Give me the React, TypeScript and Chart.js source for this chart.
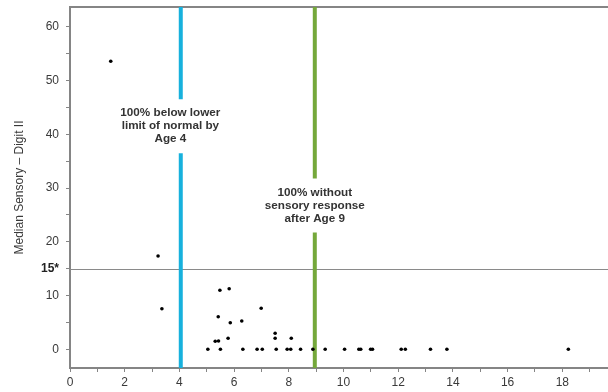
import { useEffect, useRef } from 'react';
import { Chart, registerables } from 'chart.js';

Chart.register(...registerables);

// ---- data ----
const pointX = [
  1.49, 3.22, 3.36,
  5.48, 5.82, 6.99, 5.42, 5.86, 6.28,
  5.31, 5.43, 5.78, 7.50, 7.50, 8.09,
  5.04, 5.50, 6.32, 6.84, 7.03, 7.54, 7.94, 8.07, 8.43, 8.88, 9.33,
  10.04, 10.56, 10.63, 10.99, 11.06, 12.11, 12.26, 13.18, 13.78, 18.22,
];
const pointY = [
  53.6, 17.35, 7.54,
  10.96, 11.26, 7.61, 6.05, 4.93, 5.25,
  1.47, 1.53, 2.03, 2.96, 2.03, 2.03,
  0, 0, 0, 0, 0, 0, 0, 0, 0, 0, 0,
  0, 0, 0, 0, 0, 0, 0, 0, 0, 0,
];

const yTickValues = [0, 5, 10, 15, 20, 25, 30, 35, 40, 45, 50, 55, 60];
const yTickLabels = ['0', '', '10', '15*', '20', '', '30', '', '40', '', '50', '', '60'];
const xTickValues = [0, 1, 2, 3, 4, 5, 6, 7, 8, 9, 10, 11, 12, 13, 14, 15, 16, 17, 18, 19];
const xTickLabels = ['0', '', '2', '', '4', '', '6', '', '8', '', '10', '', '12', '', '14', '', '16', '', '18', ''];

const referenceLevel = 15;
const ageLimits = [4.05, 8.95];
const ageLimitColors = ['#17b1dd', '#75a83b'];
const annotationTexts = [
  ['100% below lower', 'limit of normal by', 'Age 4'],
  ['100% without', 'sensory response', 'after Age 9'],
];
const annotationAnchorX = [3.67, 8.95];
const annotationAnchorY = [41.5, 26.75];

const yTitle = 'Median Sensory \u2013 Digit II';

const X_MIN = 0;
const X_MAX = 19.67;
const Y_MIN = -3.5;
const Y_MAX = 63.7;

const FONT = 'Arial, "Liberation Sans", sans-serif';
const AXIS_GRAY = '#858585';
const TEXT_COLOR = '#3a3a3a';

const overlayPlugin = {
  id: 'overlay',
  beforeDatasetsDraw(chart: any) {
    const { ctx, chartArea, scales } = chart;
    ctx.save();
    const y = Math.round(scales.y.getPixelForValue(referenceLevel)) + 0.5;
    ctx.strokeStyle = '#8a8a8a';
    ctx.lineWidth = 1;
    ctx.beginPath();
    ctx.moveTo(chartArea.left, y);
    ctx.lineTo(chartArea.right, y);
    ctx.stroke();
    ctx.lineWidth = 2;
    ctx.strokeStyle = AXIS_GRAY;
    ctx.beginPath();
    ctx.moveTo(chartArea.left - 1, chartArea.top);
    ctx.lineTo(chartArea.right, chartArea.top);
    ctx.stroke();
    ctx.restore();
  },
  afterDatasetsDraw(chart: any) {
    const { ctx, scales } = chart;
    ctx.save();
    ctx.font = `bold 11.7px ${FONT}`;
    ctx.textAlign = 'center';
    ctx.textBaseline = 'middle';
    const lineH = 13;
    annotationTexts.forEach((lines, i) => {
      const cx = scales.x.getPixelForValue(annotationAnchorX[i]);
      const cy = scales.y.getPixelForValue(annotationAnchorY[i]);
      const w = Math.max(...lines.map((l) => ctx.measureText(l).width)) + 6;
      const h = lines.length * lineH + 15;
      ctx.fillStyle = '#ffffff';
      ctx.fillRect(cx - w / 2, cy - h / 2, w, h);
      ctx.fillStyle = '#333333';
      lines.forEach((l, k) => {
        ctx.fillText(l, cx, cy + (k - (lines.length - 1) / 2) * lineH);
      });
    });
    ctx.restore();
  },
};

export default function App() {
  const ref = useRef<HTMLCanvasElement>(null);

  useEffect(() => {
    if (!ref.current) return;
    const lineSets = ageLimits.map((x, i) => ({
      type: 'scatter' as const,
      data: [
        { x, y: Y_MIN },
        { x, y: Y_MAX },
      ],
      showLine: true,
      borderColor: ageLimitColors[i],
      borderWidth: 4,
      pointRadius: 0,
      order: 2,
    }));
    const chart = new Chart(ref.current, {
      type: 'scatter',
      data: {
        datasets: [
          {
            data: pointX.map((x, i) => ({ x, y: pointY[i] })),
            backgroundColor: '#000000',
            borderColor: '#000000',
            borderWidth: 0,
            pointRadius: 1.8,
            order: 1,
          },
          ...lineSets,
        ] as any,
      },
      options: {
        animation: false,
        responsive: false,
        devicePixelRatio: 1,
        layout: { autoPadding: false, padding: { top: 7, right: 0, left: 0, bottom: 0 } },
        plugins: {
          legend: { display: false },
          tooltip: { enabled: false },
        },
        scales: {
          x: {
            type: 'linear',
            min: X_MIN,
            max: X_MAX,
            afterBuildTicks: (scale: any) => {
              scale.ticks = xTickValues.map((v) => ({ value: v }));
            },
            afterFit: (scale: any) => {
              scale.height = 24;
              scale.paddingLeft = 0;
              scale.paddingRight = 0;
            },
            grid: {
              drawOnChartArea: false,
              drawTicks: true,
              tickLength: 4,
              tickColor: AXIS_GRAY,
              tickWidth: 1,
            },
            border: { color: AXIS_GRAY, width: 2 },
            ticks: {
              autoSkip: false,
              maxRotation: 0,
              padding: 3,
              color: TEXT_COLOR,
              font: { family: FONT, size: 12 },
              callback: (value: any) => {
                const idx = xTickValues.indexOf(Number(value));
                return idx >= 0 ? xTickLabels[idx] : '';
              },
            },
          },
          y: {
            type: 'linear',
            min: Y_MIN,
            max: Y_MAX,
            afterBuildTicks: (scale: any) => {
              scale.ticks = yTickValues.map((v) => ({ value: v }));
            },
            afterFit: (scale: any) => {
              scale.width = 70;
              scale.paddingTop = 0;
              scale.paddingBottom = 0;
            },
            grid: {
              drawOnChartArea: false,
              drawTicks: true,
              tickLength: 4,
              tickColor: AXIS_GRAY,
              tickWidth: 1,
            },
            border: { color: AXIS_GRAY, width: 2 },
            title: {
              display: true,
              text: yTitle,
              color: TEXT_COLOR,
              font: { family: FONT, size: 12 },
              padding: { top: 12, bottom: 0 },
            },
            ticks: {
              autoSkip: false,
              padding: 7,
              color: (ctx: any) => (ctx.tick && ctx.tick.value === referenceLevel ? '#222222' : TEXT_COLOR),
              font: (ctx: any) => ({
                family: FONT,
                size: 12,
                weight: ctx.tick && ctx.tick.value === referenceLevel ? 'bold' : 'normal',
              }),
              callback: (value: any) => {
                const idx = yTickValues.indexOf(Number(value));
                return idx >= 0 ? yTickLabels[idx] : '';
              },
            },
          },
        },
      } as any,
      plugins: [overlayPlugin],
    });
    return () => chart.destroy();
  }, []);

  return (
    <div style={{ position: 'fixed', left: 0, top: 0, width: 608, height: 392, background: '#ffffff', overflow: 'hidden' }}>
      <canvas ref={ref} width={608} height={392} style={{ width: 608, height: 392, display: 'block' }} />
    </div>
  );
}
